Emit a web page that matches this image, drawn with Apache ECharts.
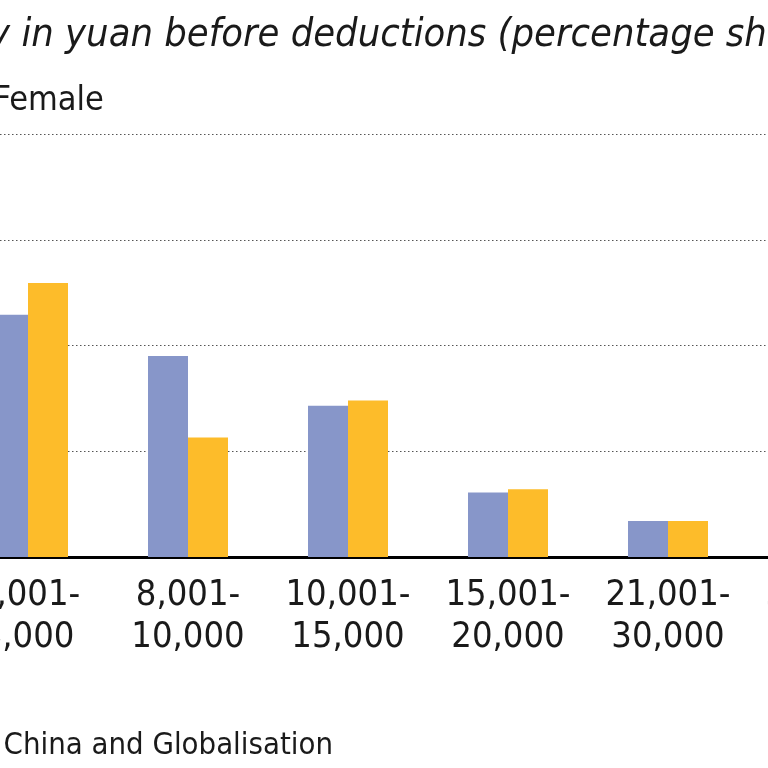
<!DOCTYPE html>
<html>
<head>
<meta charset="utf-8">
<script src="https://cdn.jsdelivr.net/npm/echarts@6/dist/echarts.min.js"></script>
<style>
html,body{margin:0;padding:0;width:768px;height:768px;overflow:hidden;background:#fff;}
#chart{position:absolute;left:-200px;top:0;width:1200px;height:768px;}
</style>
</head>
<body>
<div id="chart"></div>
<script>
const categories = ['6,001-\n8,000', '8,001-\n10,000', '10,001-\n15,000', '15,001-\n20,000', '21,001-\n30,000', '30,001-\n50,000'];
const maleValues = [22.9, 19.0, 14.3, 6.1, 3.4, 1.6];
const femaleValues = [25.9, 11.3, 14.8, 6.4, 3.4, 1.3];
const yTicks = [0, 10, 20, 30, 40];
const titleText = 'Monthly salary in yuan before deductions (percentage share)';
const sourceText = 'Source: Centre for China and Globalisation';

const FONT = '"Liberation Sans Narrow", "DejaVu Sans Condensed", "Roboto Condensed", sans-serif';
const chart = echarts.init(document.getElementById('chart'), null, {renderer: 'canvas'});
chart.setOption({
  animation: false,
  textStyle: {fontFamily: FONT},
  title: [
    {text: titleText, left: -56, top: 11,
     textStyle: {fontFamily: FONT, fontStyle: 'italic', fontWeight: 'normal', fontSize: 39.5, color: '#1a1a1a'}},
    {text: sourceText, right: 1000 - 338, top: 725,
     textStyle: {fontFamily: FONT, fontWeight: 'normal', fontSize: 30.8, color: '#1a1a1a'}}
  ],
  legend: {
    left: 20, top: 79,
    itemWidth: 28, itemHeight: 28, itemGap: 30,
    icon: 'rect',
    textStyle: {fontFamily: FONT, fontSize: 34, color: '#1a1a1a'},
    data: ['Male', 'Female']
  },
  grid: {left: 148, right: 92, top: 134, bottom: 211, containLabel: false},
  xAxis: {
    type: 'category',
    data: categories,
    axisLine: {show: true, lineStyle: {color: '#000', width: 3}},
    axisTick: {show: false},
    axisLabel: {fontFamily: FONT, fontSize: 36, lineHeight: 42, color: '#1a1a1a', margin: 18, interval: 0}
  },
  yAxis: {
    type: 'value', min: yTicks[0], max: yTicks[yTicks.length - 1], interval: 10,
    axisLine: {show: false}, axisTick: {show: false},
    axisLabel: {fontFamily: FONT, fontSize: 30, color: '#1a1a1a'},
    splitLine: {show: true, lineStyle: {color: '#555', type: [1.5, 2.5], width: 1.2}}
  },
  series: [
    {name: 'Male', type: 'bar', data: maleValues, barWidth: 40, barGap: '0%',
     itemStyle: {color: '#8796C9'}},
    {name: 'Female', type: 'bar', data: femaleValues, barWidth: 40, barGap: '0%',
     itemStyle: {color: '#FDBC2A'}}
  ]
});
</script>
</body>
</html>
